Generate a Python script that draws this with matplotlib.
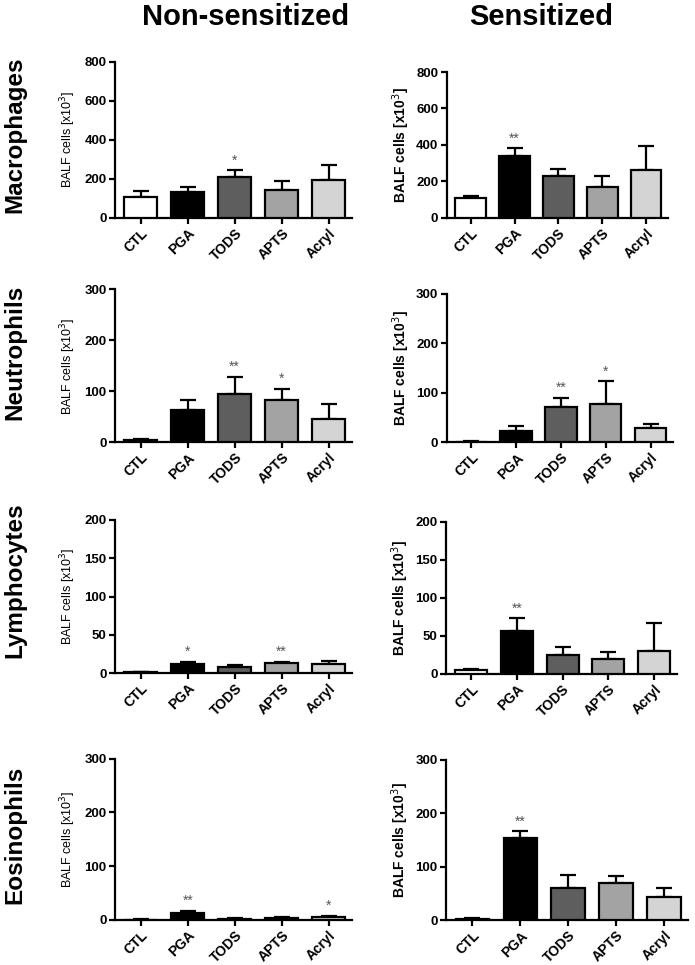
import matplotlib
matplotlib.use("Agg")
import matplotlib.pyplot as plt
import numpy as np

plt.rcParams['font.family'] = ['Liberation Sans', 'DejaVu Sans']

groups = ["CTL", "PGA", "TODS", "APTS", "Acryl"]
bar_colors = ["#ffffff", "#000000", "#5e5e5e", "#a3a3a3", "#d4d4d4"]

macro_non = [108, 133, 210, 142, 193]
macro_non_err = [30, 23, 34, 48, 75]
macro_non_sig = ["", "", "*", "", ""]
macro_sen = [106, 339, 229, 170, 262]
macro_sen_err = [13, 42, 38, 59, 132]
macro_sen_sig = ["", "**", "", "", ""]

neut_non = [4.6, 63, 94, 82, 46]
neut_non_err = [2, 19, 35, 23, 30]
neut_non_sig = ["", "", "**", "*", ""]
neut_sen = [1.3, 22, 71, 77, 28]
neut_sen_err = [0.7, 11, 19, 46, 10]
neut_sen_sig = ["", "", "**", "*", ""]

lymph_non = [1.3, 11.8, 8.3, 12.6, 12.2]
lymph_non_err = [0.4, 2.6, 2.6, 1.8, 3.8]
lymph_non_sig = ["", "*", "", "**", ""]
lymph_sen = [5.3, 56.6, 25, 19.3, 29.8]
lymph_sen_err = [0.8, 16.2, 9.6, 9.2, 36.4]
lymph_sen_sig = ["", "**", "", "", ""]

eos_non = [0.3, 13, 1.9, 3.7, 5.6]
eos_non_err = [0.1, 3.8, 0.6, 1.3, 1.9]
eos_non_sig = ["", "**", "", "", "*"]
eos_sen = [3.1, 153.5, 60, 70, 43]
eos_sen_err = [0.6, 13.5, 24, 12, 18]
eos_sen_sig = ["", "**", "", "", ""]

row_labels = ["Macrophages", "Neutrophils", "Lymphocytes", "Eosinophils"]
col_titles = ["Non-sensitized", "Sensitized"]
ymax = [800, 300, 200, 300]
ystep = [200, 100, 50, 100]

W, H = 695, 965
fig = plt.figure(figsize=(W / 100, H / 100), dpi=100)

# axes boxes in pixels: (x0, x1, ytop, ybottom)
boxes = [
    [(115, 352, 61.7, 217.7), (446.7, 668, 72, 217.7)],
    [(115, 352, 289.3, 442.3), (446.7, 673, 294, 442.3)],
    [(115, 352, 520, 673), (446, 677, 521.7, 673.7)],
    [(115, 352, 758.7, 919.7), (446, 688, 760, 920.3)],
]
data = [
    [(macro_non, macro_non_err, macro_non_sig), (macro_sen, macro_sen_err, macro_sen_sig)],
    [(neut_non, neut_non_err, neut_non_sig), (neut_sen, neut_sen_err, neut_sen_sig)],
    [(lymph_non, lymph_non_err, lymph_non_sig), (lymph_sen, lymph_sen_err, lymph_sen_sig)],
    [(eos_non, eos_non_err, eos_non_sig), (eos_sen, eos_sen_err, eos_sen_sig)],
]
row_centers = [135, 352, 580, 835]

lw = 1.6
for r in range(4):
    for c in range(2):
        x0, x1, yt, yb = boxes[r][c]
        ax = fig.add_axes([x0 / W, 1 - yb / H, (x1 - x0) / W, (yb - yt) / H])
        vals, errs, sig = data[r][c]
        x = np.arange(len(groups))
        ax.errorbar(x, vals, yerr=[np.zeros(len(vals)), errs], fmt='none',
                    ecolor='black', elinewidth=lw, capsize=5.5, capthick=lw, zorder=2)
        ax.bar(x, vals, width=0.7, color=bar_colors, edgecolor='black',
               linewidth=lw, zorder=3)
        for i, s in enumerate(sig):
            if s:
                ax.annotate(s, (x[i], vals[i] + errs[i]), xytext=(0, 2),
                            textcoords='offset points', ha='center', va='bottom',
                            fontsize=10, color='#555555')
        ax.set_xlim(-0.55, 4.5)
        ax.set_ylim(0, ymax[r])
        ax.set_yticks(np.arange(0, ymax[r] + 1, ystep[r]))
        ax.set_xticks(x)
        ax.set_xticklabels(groups, rotation=45, ha='right', rotation_mode='anchor',
                           fontweight='bold', fontsize=10)
        for lab in ax.get_yticklabels():
            lab.set_fontweight('bold')
            lab.set_fontsize(9.5)
        for sp in ['top', 'right']:
            ax.spines[sp].set_visible(False)
        for sp in ['left', 'bottom']:
            ax.spines[sp].set_linewidth(lw)
        ax.tick_params(axis='both', direction='out', length=4, width=lw, pad=2)
        ax.set_ylabel("BALF cells [x10$^3$]", fontsize=9 if c == 0 else 10,
                      fontweight='normal' if c == 0 else 'bold')
        ax.yaxis.set_label_coords(-(37 if c == 0 else 35) / (x1 - x0), 0.5)
        ax.patch.set_alpha(0)

for c, t in enumerate(col_titles):
    fig.text((246 if c == 0 else 541) / W, 1 - 17 / H, t, ha='center', va='center',
             fontsize=21, fontweight='bold')
for r, lab in enumerate(row_labels):
    fig.text(15 / W, 1 - row_centers[r] / H, lab, rotation=90, ha='center', va='center',
             fontsize=17.5, fontweight='bold')

fig.savefig("out.png", dpi=100)
